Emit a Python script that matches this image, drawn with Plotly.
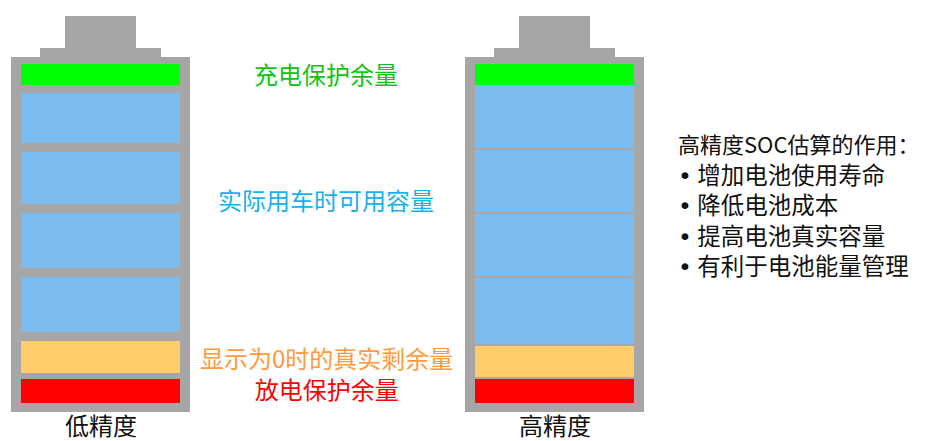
import plotly.graph_objects as go

# ---- data ----
segment_names = ["充电保护余量", "实际用车时可用容量", "实际用车时可用容量", "实际用车时可用容量",
                 "实际用车时可用容量", "显示为0时的真实剩余量", "放电保护余量"]
segment_colors = ["#00ff00", "#7bbcf0", "#7bbcf0", "#7bbcf0", "#7bbcf0", "#ffcc6a", "#ff0000"]

# segment top / bottom positions (diagram units, y grows downward)
low_tops = [64, 93, 152, 213, 277, 341, 379]
low_bottoms = [85, 143, 204, 268, 332, 373, 403]
high_tops = [64, 86, 150, 214, 278, 346, 379]
high_bottoms = [85, 148, 212, 276, 344, 377, 403]

battery_labels = ["低精度", "高精度"]
battery_left = [11, 465]          # body left edge
body_width = 179
inner_pad = 10
body_top, body_bottom = 57, 412
shoulder_inset, shoulder_top = 29, 48
cap_inset, cap_top = 54, 16

label_texts = ["充电保护余量", "实际用车时可用容量", "显示为0时的真实剩余量", "放电保护余量"]
label_colors = ["#12c312", "#1ab0ec", "#ff9a3c", "#ff0000"]
label_y = [73, 199, 373]
label_x = 326

notes_title = "高精度SOC估算的作用："
notes_items = ["增加电池使用寿命", "降低电池成本", "提高电池真实容量", "有利于电池能量管理"]

GRAY = "#a6a6a6"
FONT = "Noto Sans CJK SC"

fig = go.Figure()
shapes = []
annotations = []

for b, (x0, tops, bottoms) in enumerate(zip(battery_left, [low_tops, high_tops], [low_bottoms, high_bottoms])):
    x1 = x0 + body_width
    shapes.append(dict(type="rect", x0=x0 + cap_inset, x1=x1 - cap_inset, y0=cap_top, y1=shoulder_top,
                       fillcolor=GRAY, line_width=0))
    shapes.append(dict(type="rect", x0=x0 + shoulder_inset, x1=x1 - shoulder_inset, y0=shoulder_top, y1=body_top,
                       fillcolor=GRAY, line_width=0))
    shapes.append(dict(type="rect", x0=x0, x1=x1, y0=body_top, y1=body_bottom,
                       fillcolor=GRAY, line_width=0))
    for t, bt, c in zip(tops, bottoms, segment_colors):
        shapes.append(dict(type="rect", x0=x0 + inner_pad, x1=x1 - inner_pad, y0=t, y1=bt,
                           fillcolor=c, line_width=0))
    annotations.append(dict(x=(x0 + x1) / 2, y=424, text=battery_labels[b], showarrow=False,
                            xanchor="center", yanchor="middle", borderpad=0,
                            font=dict(family=FONT, size=24, color="#111111")))

# top two labels
for t, c, y in zip(label_texts[:2], label_colors[:2], label_y[:2]):
    annotations.append(dict(x=label_x, y=y, text=t, showarrow=False, xanchor="center", yanchor="middle",
                            font=dict(family=FONT, size=24, color=c)))
# bottom two labels as one two-line block
bottom_text = "<br>".join(f'<span style="color:{c}">{t}</span>'
                          for t, c in zip(label_texts[2:], label_colors[2:]))
annotations.append(dict(x=label_x, y=label_y[2], text=bottom_text, showarrow=False,
                        xanchor="center", yanchor="middle", align="center",
                        font=dict(family=FONT, size=24, color=label_colors[2])))

bullet = '<span style="font-family:DejaVu Sans">•</span> '
notes_text = "<br>".join([f'<span style="font-size:22px">{notes_title}</span>'] +
                         [bullet + s for s in notes_items])
annotations.append(dict(x=677, y=204, text=notes_text, showarrow=False, xanchor="left", yanchor="middle",
                        align="left", borderpad=0,
                        font=dict(family=FONT, size=23.5, color="#111111")))

fig.update_layout(
    width=925, height=441,
    margin=dict(l=0, r=0, t=0, b=0),
    paper_bgcolor="white", plot_bgcolor="white",
    xaxis=dict(range=[0, 925], visible=False, fixedrange=True),
    yaxis=dict(range=[441, 0], visible=False, fixedrange=True),
    shapes=shapes, annotations=annotations, showlegend=False,
)

fig.write_html("out.html", config={"displayModeBar": False},
               post_script="document.body.style.margin='0px';document.body.style.overflow='hidden';")
